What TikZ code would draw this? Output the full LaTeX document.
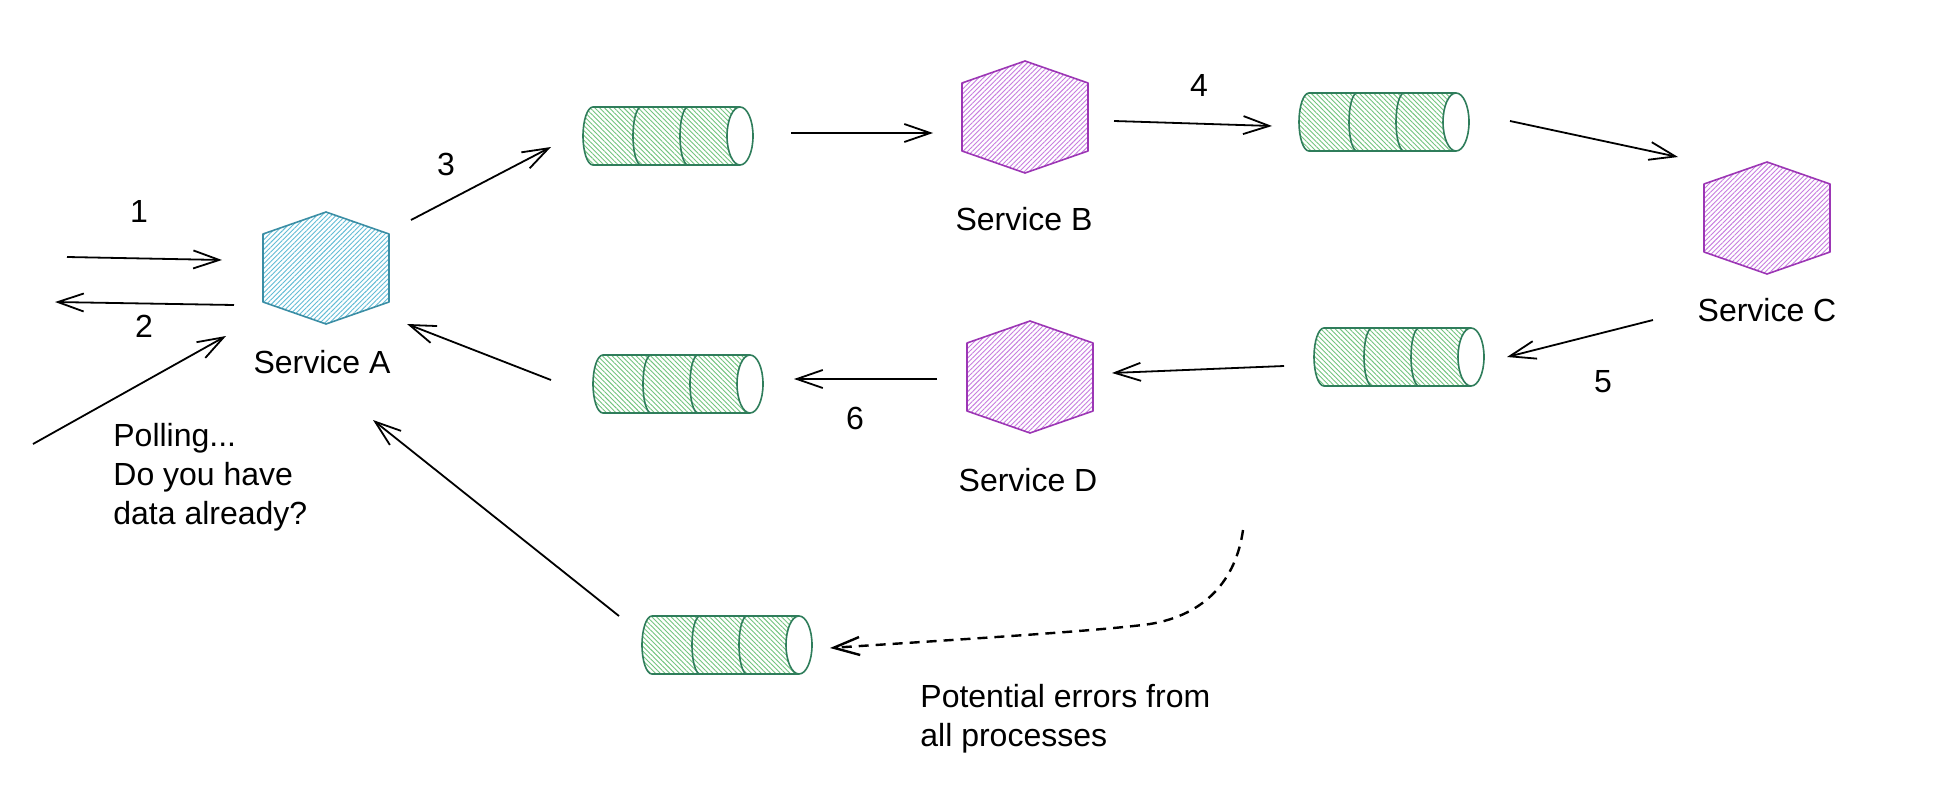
\documentclass[tikz,border=0pt]{standalone}
\usepackage{fontspec}
\setmainfont{Liberation Sans}
\usetikzlibrary{arrows.meta,patterns.meta,calc}
\definecolor{bluestroke}{HTML}{3B8EA5}
\definecolor{bluehatch}{HTML}{62BCD6}
\definecolor{purplestroke}{HTML}{9C36B5}
\definecolor{purplehatch}{HTML}{C77DE0}
\definecolor{greenstroke}{HTML}{2F7D5B}
\definecolor{greenhatch}{HTML}{72C47E}
\tikzset{
  lbl/.style={font=\fontsize{16}{19.5}\selectfont, inner sep=0pt},
  anchorpt/.style={inner sep=0pt, minimum size=0pt},
  arr/.style={-{Straight Barb[length=13pt,width=9pt]}, line width=0.9pt, black},
  dasharr/.style={arr, line width=1.2pt, dash pattern=on 5pt off 3.5pt},
  pics/hexa/.style={code={
    \path[pattern={Lines[angle=45,distance=1.7pt,line width=0.45pt]}, pattern color=#1hatch]
      (0,-56) -- (63,-34) -- (63,34) -- (0,56) -- (-63,34) -- (-63,-34) -- cycle;
    \draw[#1stroke, line width=0.8pt, line join=round]
      (0,-56) -- (63,-34) -- (63,34) -- (0,56) -- (-63,34) -- (-63,-34) -- cycle;
  }},
  pics/queue/.style={code={
    \path[pattern={Lines[angle=-45,distance=1.7pt,line width=0.45pt]}, pattern color=greenhatch]
      (74,-29) -- (-73,-29) arc[start angle=270,end angle=90,x radius=10,y radius=29]
      -- (74,29) arc[start angle=90,end angle=270,x radius=13,y radius=29] -- cycle;
    \draw[greenstroke, line width=0.8pt, line join=round]
      (74,-29) -- (-73,-29) arc[start angle=270,end angle=90,x radius=10,y radius=29]
      -- (74,29);
    \draw[greenstroke, line width=0.8pt]
      (-25,-29) arc[start angle=270,end angle=90,x radius=8,y radius=29];
    \draw[greenstroke, line width=0.8pt]
      (22,-29) arc[start angle=270,end angle=90,x radius=8,y radius=29];
    \draw[greenstroke, line width=0.8pt, fill=white]
      (74,0) ellipse[x radius=13, y radius=29];
  }}
}
\begin{document}
\begin{tikzpicture}[x=0.5pt,y=-0.5pt]
\fill[white] (0,0) rectangle (1952,792);
\useasboundingbox (0,0) rectangle (1952,792);

% services
\node[anchorpt] (sA) at (326,268) {};
\node[anchorpt] (sB) at (1025,117) {};
\node[anchorpt] (sC) at (1767,218) {};
\node[anchorpt] (sD) at (1030,377) {};
\pic at (sA) {hexa=blue};
\pic at (sB) {hexa=purple};
\pic at (sC) {hexa=purple};
\pic at (sD) {hexa=purple};

% queues
\node[anchorpt] (q1) at (666,136) {};
\node[anchorpt] (q2) at (1382,122) {};
\node[anchorpt] (q3) at (1397,357) {};
\node[anchorpt] (q4) at (676,384) {};
\node[anchorpt] (q5) at (725,645) {};
\pic at (q1) {queue};
\pic at (q2) {queue};
\pic at (q3) {queue};
\pic at (q4) {queue};
\pic at (q5) {queue};

% labels
\node[lbl] (tA) at (322,362) {Service A};
\node[lbl] (tB) at (1024,219) {Service B};
\node[lbl] (tC) at (1767,310) {Service C};
\node[lbl] (tD) at (1028,480) {Service D};
\node[lbl] (n1) at (139,211) {1};
\node[lbl] (n2) at (144,326) {2};
\node[lbl] (n3) at (446,164) {3};
\node[lbl] (n4) at (1199,85) {4};
\node[lbl] (n5) at (1603,382) {5};
\node[lbl] (n6) at (855,418) {6};
\node[lbl, align=left, anchor=west] (poll) at (113,477) {Polling...\\Do you have\\data already?};
\node[lbl, align=left, anchor=west] (errs) at (920,719) {Potential errors from\\all processes};

% free ends
\coordinate (in1) at (67,257);
\coordinate (out2) at (55,302);
\coordinate (pollsrc) at (33,444);
\coordinate (errsrc) at (1243,530);
\coordinate (errbend) at (1150,624);

% connectors
\draw[arr] (in1) -- ($(sA)+(-104,-8)$);
\draw[arr] ($(sA)+(-92,37)$) -- (out2);
\draw[arr] (pollsrc) -- ($(sA)+(-100,68)$);
\draw[arr] ($(sA)+(85,-48)$) -- ($(q1)+(-115,11)$);
\draw[arr] ($(q1)+(125,-3)$) -- ($(sB)+(-92,16)$);
\draw[arr] ($(sB)+(89,4)$) -- ($(q2)+(-110,4)$);
\draw[arr] ($(q2)+(128,-1)$) -- ($(sC)+(-89,-61)$);
\draw[arr] ($(sC)+(-114,102)$) -- ($(q3)+(110,0)$);
\draw[arr] ($(q3)+(-113,9)$) -- ($(sD)+(82,-4)$);
\draw[arr] ($(sD)+(-93,2)$) -- ($(q4)+(118,-5)$);
\draw[arr] ($(q4)+(-125,-4)$) -- ($(sA)+(81,56)$);
\draw[arr] ($(q5)+(-106,-29)$) -- ($(sA)+(47,152)$);
\draw[dasharr] (errsrc) .. controls ($(errsrc)+(-7,50)$) and ($(errbend)+(55,-9)$) .. (errbend)
  .. controls ($(errbend)+(-50,7)$) and ($(q5)+(225,-5)$) .. ($(q5)+(105,3)$);
\end{tikzpicture}
\end{document}
